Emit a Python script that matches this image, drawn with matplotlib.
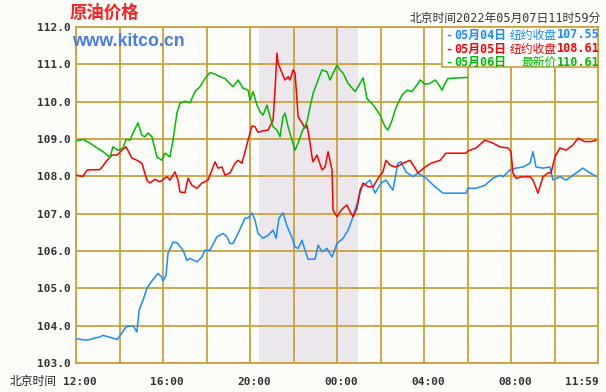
import matplotlib
matplotlib.use("Agg")
import matplotlib.pyplot as plt
import matplotlib.transforms as mtransforms

# hours since 12:00 (Beijing time) and price
blue_t = [0, 0.49, 1.10, 1.24, 1.56, 1.89, 2.11, 2.30, 2.62, 2.80, 2.90, 3.08, 3.26, 3.49,
          3.77, 3.95, 4.00, 4.14, 4.23, 4.46, 4.64, 4.92, 5.10, 5.24, 5.56, 5.79, 5.93, 6.16,
          6.48, 6.76, 6.94, 7.08, 7.22, 7.45, 7.77, 7.91, 8.09, 8.23, 8.37, 8.60, 8.83, 9.06,
          9.20, 9.33, 9.52, 9.70, 9.93, 10.07, 10.21, 10.39, 10.53, 10.67, 10.99, 11.13, 11.31,
          11.54, 11.77, 12.00, 12.28, 12.51, 12.74, 12.97, 13.15, 13.52, 13.75, 14.02, 14.25,
          14.57, 14.80, 14.94, 15.17, 15.49, 15.72, 16.09, 16.51, 16.87, 17.93, 18.02, 18.39,
          18.80, 19.17, 19.49, 19.63, 19.95, 20.23, 20.55, 20.87, 21.01, 21.15, 21.47, 21.79,
          21.93, 22.25, 22.53, 22.85, 23.31, 23.63, 23.91]
blue_v = [103.65, 103.61, 103.70, 103.74, 103.69, 103.63, 103.80, 103.97, 104.00, 103.83, 104.41,
          104.68, 105.00, 105.20, 105.40, 105.30, 105.20, 105.35, 105.94, 106.24, 106.22, 106.02,
          105.75, 105.80, 105.71, 105.84, 106.02, 106.02, 106.38, 106.47, 106.38, 106.20, 106.20,
          106.47, 106.88, 106.88, 107.02, 106.83, 106.47, 106.34, 106.42, 106.56, 106.34, 106.88,
          107.02, 106.67, 106.36, 106.11, 106.07, 106.29, 106.02, 105.78, 105.78, 106.16, 105.98,
          106.07, 105.84, 106.20, 106.34, 106.56, 106.92, 107.36, 107.72, 107.90, 107.55, 107.82,
          107.90, 107.63, 108.35, 108.39, 108.12, 107.99, 108.09, 107.95, 107.72, 107.55, 107.55,
          107.68, 107.68, 107.76, 107.95, 108.03, 107.99, 108.17, 108.22, 108.25, 108.35, 108.66,
          108.25, 108.22, 108.25, 107.90, 107.99, 107.90, 108.03, 108.22, 108.09, 108.00]

red_t = [0, 0.32, 0.51, 1.10, 1.20, 1.43, 1.66, 1.89, 2.11, 2.30, 2.57, 2.80, 3.03, 3.26, 3.40,
         3.63, 3.86, 4.18, 4.32, 4.55, 4.69, 4.78, 5.01, 5.15, 5.33, 5.56, 5.79, 6.07, 6.25, 6.39,
         6.53, 6.71, 6.85, 7.08, 7.31, 7.45, 7.63, 7.77, 7.91, 8.09, 8.23, 8.37, 8.60, 8.83, 9.06,
         9.15, 9.24, 9.29, 9.47, 9.61, 9.75, 9.84, 9.98, 10.07, 10.16, 10.21, 10.39, 10.53, 10.62,
         10.76, 10.85, 10.90, 11.08, 11.31, 11.45, 11.59, 11.77, 11.82, 12.00, 12.14, 12.28, 12.46,
         12.60, 12.74, 12.92, 13.06, 13.20, 13.43, 13.66, 13.89, 14.11, 14.25, 14.44, 14.67, 14.90,
         15.03, 15.36, 15.59, 15.72, 16.05, 16.32, 16.74, 17.01, 17.93, 18.02, 18.39, 18.80, 19.17,
         19.49, 19.86, 20.00, 20.09, 20.23, 20.55, 20.87, 21.01, 21.24, 21.47, 21.70, 21.84, 22.02,
         22.25, 22.53, 22.85, 23.08, 23.40, 23.68, 23.91]
red_v = [108.03, 108.00, 108.17, 108.18, 108.25, 108.43, 108.57, 108.57, 108.70, 108.79, 108.49,
         108.43, 108.35, 107.90, 107.82, 107.92, 107.85, 107.99, 107.90, 108.12, 107.90, 107.58,
         107.56, 107.95, 107.76, 107.68, 107.82, 107.90, 108.17, 108.39, 108.22, 108.25, 108.03,
         108.09, 108.35, 108.43, 108.35, 108.66, 108.97, 109.35, 109.33, 109.18, 109.22, 109.24,
         109.50, 110.31, 111.30, 111.03, 110.77, 110.58, 110.67, 110.58, 110.85, 110.77, 110.04,
         109.60, 109.43, 109.29, 109.37, 108.89, 108.52, 108.39, 108.57, 108.17, 108.25, 108.66,
         108.17, 107.09, 106.92, 107.05, 107.15, 107.23, 107.05, 106.92, 107.15, 107.63, 107.82,
         107.72, 107.72, 107.95, 108.12, 108.43, 108.30, 108.25, 108.30, 108.35, 108.43, 108.22,
         108.09, 108.25, 108.35, 108.43, 108.62, 108.62, 108.68, 108.76, 108.97, 108.89, 108.79,
         108.76, 108.66, 108.09, 107.95, 107.99, 107.99, 107.90, 107.55, 107.99, 108.09, 108.09,
         108.52, 108.76, 108.70, 108.84, 109.02, 108.93, 108.93, 108.97]

green_t = [0, 0.32, 0.64, 0.97, 1.24, 1.56, 1.70, 1.93, 2.16, 2.30, 2.48, 2.62, 2.85, 3.03, 3.17,
           3.31, 3.49, 3.72, 3.95, 4.09, 4.32, 4.46, 4.64, 4.78, 5.01, 5.24, 5.47, 5.70, 5.93, 6.16,
           6.39, 6.62, 6.85, 6.99, 7.22, 7.45, 7.68, 7.91, 8.00, 8.14, 8.32, 8.46, 8.60, 8.78, 8.92,
           9.06, 9.24, 9.38, 9.52, 9.61, 9.75, 9.93, 10.07, 10.21, 10.39, 10.62, 10.76, 10.90, 11.13,
           11.31, 11.54, 11.68, 11.82, 12.00, 12.14, 12.28, 12.51, 12.83, 13.06, 13.20, 13.38, 13.61,
           13.84, 13.98, 14.21, 14.34, 14.53, 14.67, 14.80, 14.99, 15.22, 15.45, 15.68, 15.82, 16.05,
           16.28, 16.51, 16.64, 16.83, 16.97, 17.10, 17.98]
green_v = [108.95, 108.99, 108.89, 108.76, 108.66, 108.51, 108.79, 108.70, 108.76, 108.99, 108.97,
           109.16, 109.43, 109.10, 109.06, 109.16, 109.06, 108.52, 108.43, 108.62, 108.52, 108.97,
           109.69, 109.96, 110.01, 109.97, 110.27, 110.40, 110.62, 110.78, 110.74, 110.67, 110.62,
           110.53, 110.40, 110.58, 110.36, 110.31, 110.04, 110.27, 109.91, 109.73, 109.64, 109.91,
           109.60, 109.33, 109.24, 109.06, 109.60, 109.69, 109.33, 108.97, 108.70, 108.89, 109.19,
           109.46, 109.86, 110.22, 110.58, 110.85, 110.80, 110.58, 110.76, 110.98, 110.85, 110.76,
           110.49, 110.27, 110.49, 110.64, 110.08, 109.95, 109.77, 109.64, 109.33, 109.24, 109.50,
           109.77, 109.95, 110.18, 110.31, 110.27, 110.45, 110.58, 110.47, 110.49, 110.58, 110.49,
           110.31, 110.49, 110.62, 110.65]

tick_pos = [0, 4, 8, 12, 16, 20, 24]
tick_labels = ['12:00', '16:00', '20:00', '00:00', '04:00', '08:00', '11:59']
y_ticks = [103, 104, 105, 106, 107, 108, 109, 110, 111, 112]
shade_start, shade_end = 8.41, 12.97

legend_dates = ['05月04日', '05月05日', '05月06日']
legend_kinds = ['纽约收盘', '纽约收盘', '最新价']
legend_prices = ['107.55', '108.61', '110.61']

BLUE = '#1a8cff'
RED = '#ff0000'
GREEN = '#00bb00'
GOLD = '#c9a23c'
BG = '#fcfcf9'

plt.rcParams['font.family'] = ['DejaVu Sans Mono', 'Noto Sans CJK SC']

fig = plt.figure(figsize=(6.06, 3.92), dpi=100, facecolor=BG)
ax = fig.add_axes([76 / 606, 1 - 363 / 392, 522 / 606, 336 / 392])
ax.set_facecolor(BG)

ax.axvspan(shade_start, shade_end, color='#ebe7ec', lw=0, zorder=0)

for x in range(0, 25, 2):
    ax.axvline(x, color=GOLD, lw=1.3, zorder=1)
for y in y_ticks:
    ax.axhline(y, color=GOLD, lw=1.3, zorder=1)

ax.plot(blue_t, blue_v, color=BLUE, lw=1.1, zorder=3)
ax.plot(red_t, red_v, color=RED, lw=1.1, zorder=4)
ax.plot(green_t, green_v, color=GREEN, lw=1.1, zorder=5)

ax.set_xlim(0, 24)
ax.set_ylim(103, 112)
for s in ax.spines.values():
    s.set_color(GOLD)
    s.set_linewidth(1.3)

ax.set_yticks(y_ticks)
ax.set_yticklabels([f'{v:.1f}' for v in y_ticks], fontsize=8, fontweight='bold', color='#333333')
ax.set_xticks(tick_pos)
ax.set_xticklabels(tick_labels, fontsize=8, fontweight='bold', color='#333333')
ax.tick_params(length=0, pad=4)
ax.tick_params(axis='x', pad=10)
shift = mtransforms.ScaledTranslation(4 / 100, 0, fig.dpi_scale_trans)
xlabels = ax.get_xticklabels()
for lab in xlabels[:-1]:
    lab.set_transform(lab.get_transform() + shift)
xlabels[-1].set_ha('right')
xlabels[-1].set_transform(xlabels[-1].get_transform() + mtransforms.ScaledTranslation(1 / 100, 0, fig.dpi_scale_trans))

fig.text(10 / 606, 1 - 382 / 392, '北京时间', fontsize=8.5, color='#222222', va='center',
         family='Noto Sans CJK SC')
fig.text(70 / 606, 1 - 13 / 392, '原油价格', fontsize=12.5, color='#ff2020', va='center',
         fontweight='bold', family='Noto Sans CJK SC')
fig.text(72 / 606, 1 - 42 / 392, 'www.kitco.cn', fontsize=12.7, color='#4a7bea', va='center',
         fontweight='bold', family='Liberation Sans', zorder=10)
fig.text(601 / 606, 1 - 18 / 392, '北京时间2022年05月07日11时59分', fontsize=8.5, color='#333333',
         va='center', ha='right')

# legend box
box = plt.Rectangle((442 / 606, 1 - 67 / 392), 156 / 606, 40 / 392, transform=fig.transFigure,
                    facecolor='white', edgecolor=GOLD, lw=1.2, zorder=8)
fig.patches.append(box)
row_y = [35, 49, 62]
for i, col in enumerate([BLUE, RED, GREEN]):
    yy = 1 - row_y[i] / 392
    fig.text(445 / 606, yy, '-', color=col, fontsize=8.5, fontweight='bold', va='center', zorder=9)
    fig.text(454 / 606, yy, legend_dates[i], color=col, fontsize=8.5, fontweight='bold',
             va='center', zorder=9)
    fig.text(557 / 606, yy, legend_kinds[i], color=col, fontsize=8.5, va='center', ha='right',
             zorder=9)
    fig.text(600 / 606, yy, legend_prices[i], color=col, fontsize=8.5, fontweight='bold',
             va='center', ha='right', zorder=9)

fig.savefig('out.png', dpi=100, facecolor=BG)
